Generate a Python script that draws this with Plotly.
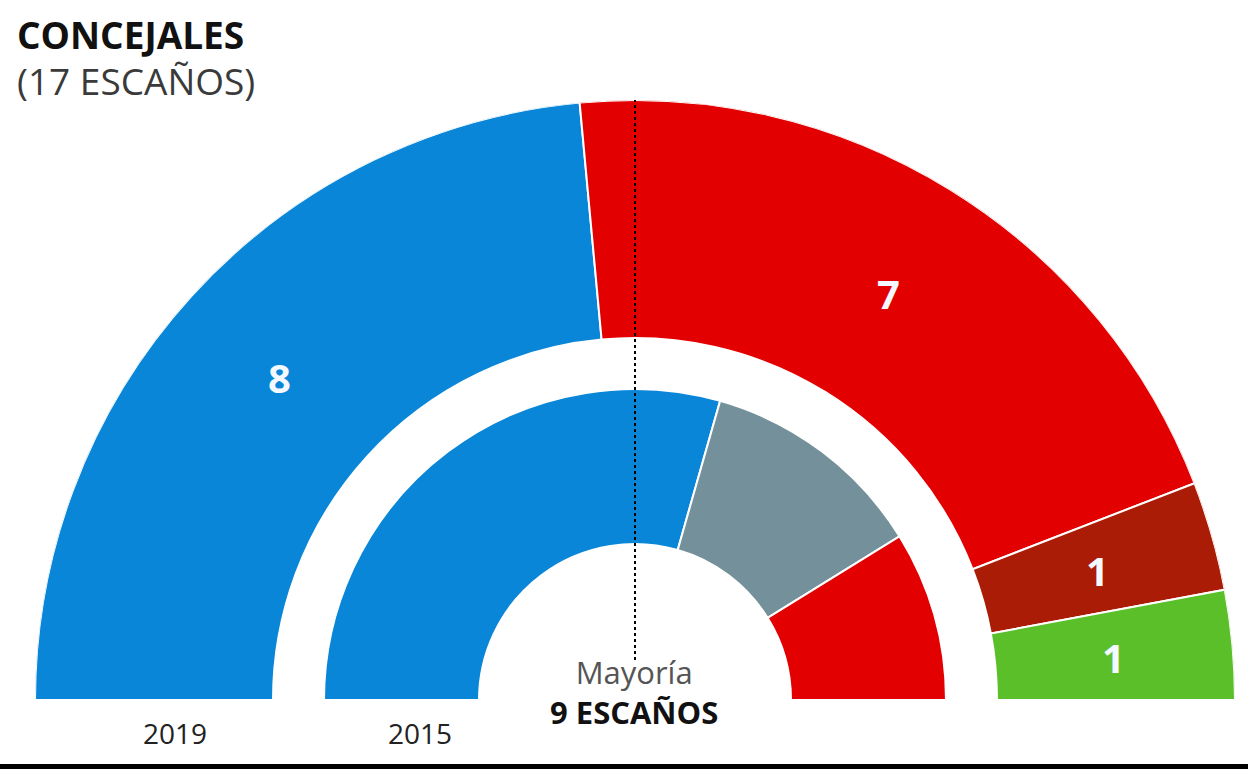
import math
import plotly.graph_objects as go

# ---- data ----
TOTAL_SEATS = 17
MAJORITY = 9
years = ["2019", "2015"]
parties_2019 = ["PP", "PSOE", "Otros", "Verdes"]
seats_2019 = [8, 7, 1, 1]
colors_2019 = ["#0a86d8", "#e30000", "#ab1c06", "#5bbf2a"]
labels_2019 = ["8", "7", "1", "1"]

parties_2015 = ["PP", "Otros", "PSOE"]
seats_2015 = [10, 4, 3]
colors_2015 = ["#0a86d8", "#74909a", "#e30000"]

# ring geometry (radial axis units = pixels of radius)
R_MAX = 600
OUTER_RING = (362, 600)
INNER_RING = (156, 311)

deg = 180.0 / TOTAL_SEATS


def ring_geom(seats):
    centers, widths = [], []
    acc = 0
    for s in seats:
        centers.append((acc + s / 2) * deg)
        widths.append(s * deg)
        acc += s
    return centers, widths


W, H = 1248, 770
DOM_X = [35 / W, 1235 / W]
DOM_Y = [70 / H, 670 / H]

fig = go.Figure()

for seats, cols, ring, name in [
    (seats_2019, colors_2019, OUTER_RING, "2019"),
    (seats_2015, colors_2015, INNER_RING, "2015"),
]:
    c, w = ring_geom(seats)
    fig.add_trace(go.Barpolar(
        theta=c, width=w,
        r=[ring[1] - ring[0]] * len(seats),
        base=[ring[0]] * len(seats),
        marker=dict(color=cols, line=dict(color="white", width=2)),
        name=name, hoverinfo="skip", showlegend=False,
    ))

# majority line
maj_theta = 90
fig.add_trace(go.Scatterpolar(
    theta=[maj_theta, maj_theta], r=[40, R_MAX], mode="lines",
    line=dict(color="black", width=2, dash="3px,3px"),
    hoverinfo="skip", showlegend=False,
))

fig.update_layout(
    width=W, height=H,
    margin=dict(l=0, r=0, t=0, b=0),
    paper_bgcolor="white",
    plot_bgcolor="rgba(0,0,0,0)",
    polar=dict(
        domain=dict(x=DOM_X, y=DOM_Y),
        sector=[0, 180],
        hole=0,
        bgcolor="white",
        radialaxis=dict(range=[0, R_MAX], visible=False),
        angularaxis=dict(visible=False, direction="clockwise", rotation=180),
        bargap=0,
    ),
    # invisible cartesian frame matching the polar geometry, for seat labels
    xaxis=dict(domain=DOM_X, range=[-R_MAX, R_MAX], visible=False, fixedrange=True),
    yaxis=dict(domain=DOM_Y, range=[0, R_MAX], visible=False, fixedrange=True),
    font=dict(family="Open Sans"),
)

# seat labels on outer ring
c19, _ = ring_geom(seats_2019)
mid = (OUTER_RING[0] + OUTER_RING[1]) / 2
for th, lab in zip(c19, labels_2019):
    a = math.radians(180 - th)
    fig.add_annotation(
        x=mid * math.cos(a), y=mid * math.sin(a), xref="x", yref="y",
        text=f"<b>{lab}</b>", showarrow=False, xanchor="center", yanchor="middle",
        yshift=-2,
        font=dict(family="Open Sans", size=40, color="#f4f8ff"),
    )

ann = [
    dict(text="<b>CONCEJALES</b>", x=15, y=35, xanchor="left", size=37, color="#111111"),
    dict(text="(17 ESCAÑOS)", x=15, y=80, xanchor="left", size=37, color="#3a3a3a"),
    dict(text=("<span style='color:#555555'>Mayoría</span><br>"
               f"<b>{MAJORITY} ESCAÑOS</b>"),
         x=634, y=692, xanchor="center", size=31, color="#111111"),
    dict(text=years[0], x=175, y=733, xanchor="center", size=28, color="#222222"),
    dict(text=years[1], x=420, y=733, xanchor="center", size=28, color="#222222"),
]
for a in ann:
    fig.add_annotation(
        text=a["text"], x=a["x"] / W, y=1 - a["y"] / H, xref="paper", yref="paper",
        xanchor=a["xanchor"], yanchor="middle", showarrow=False,
        font=dict(family="Open Sans", size=a["size"], color=a["color"]),
    )

fig.add_shape(type="rect", xref="paper", yref="paper",
              x0=0, x1=1, y0=1 - 769 / H, y1=1 - 764 / H,
              fillcolor="black", line=dict(width=0))

fig.write_html("out.html")
